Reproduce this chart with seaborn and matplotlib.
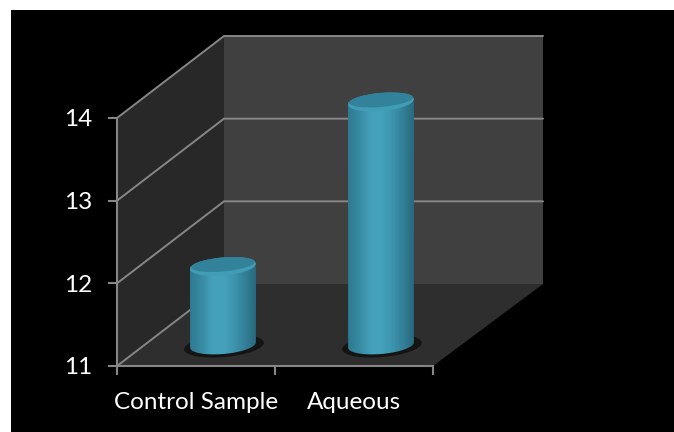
import numpy as np
import pandas as pd
import seaborn as sns
import matplotlib.pyplot as plt
from matplotlib.patches import Polygon, Ellipse, PathPatch, Rectangle
from matplotlib.path import Path
from matplotlib.colors import LinearSegmentedColormap
from matplotlib.transforms import IdentityTransform

categories = ["Control Sample", "Aqueous"]
values = [11.95, 13.94]
y_ticks = [11, 12, 13, 14]

W, H = 674, 432
DEPTH_L, DEPTH_R, DEPTH_Y = 107, 110, 82   # px, depth of the 3d box
BAR_DX, BAR_DY = 27, 21      # px, bars stand this far into the box
GREY = "#868686"

sns.set_theme(style="white")
plt.rcParams["font.family"] = ["Lato", "DejaVu Sans"]

fig = plt.figure(figsize=(W / 100, H / 100), dpi=100, facecolor="white")
fig.add_artist(Rectangle((11 / W, 0), 1 - 11 / W, 1 - 10 / H, transform=fig.transFigure,
                         facecolor="black", edgecolor="none", zorder=-5))
ax = fig.add_axes([117 / W, 1 - 366 / H, 316 / W, 248 / H])
ax.patch.set_alpha(0)

df = pd.DataFrame({"sample": categories, "value": values})
sns.barplot(data=df, x="sample", y="value", ax=ax, width=0.418, color="#3f9cb8", saturation=1)
ax.set_xlim(-0.5, 1.5)
ax.set_ylim(y_ticks[0], y_ticks[-1])
ax.set(xlabel="", ylabel="")

# axis lines and ticks
for s in ["top", "right"]:
    ax.spines[s].set_visible(False)
for s in ["left", "bottom"]:
    ax.spines[s].set_color(GREY)
    ax.spines[s].set_linewidth(1.5)
ax.set_yticks(y_ticks)
ax.set_xticks([0, 1], categories)
ax.set_xticks([-0.5, 0.5, 1.5], minor=True)
ax.tick_params(axis="y", colors="white", labelsize=17.5, length=6.5, width=1.5, color=GREY, pad=11, left=True)
ax.tick_params(axis="x", which="major", colors="white", labelsize=17.5, length=0, pad=18.5)
ax.tick_params(axis="x", which="minor", length=6.5, width=1.5, color=GREY, bottom=True)

# everything 3d is placed in pixels worked out from the axes scales
px = IdentityTransform()
to_px = ax.transData.transform
x0, y_lo = to_px((-0.5, y_ticks[0]))
x1, y_hi = to_px((1.5, y_ticks[-1]))


def wall(points, color, z):
    ax.add_patch(Polygon(points, closed=True, facecolor=color, edgecolor="none",
                         transform=px, clip_on=False, zorder=z))


wall([(x0, y_lo), (x0, y_hi), (x0 + DEPTH_L, y_hi + DEPTH_Y), (x0 + DEPTH_L, y_lo + DEPTH_Y)], "#282828", 0.1)
wall([(x0 + DEPTH_L, y_lo + DEPTH_Y), (x0 + DEPTH_L, y_hi + DEPTH_Y),
      (x1 + DEPTH_R, y_hi + DEPTH_Y), (x1 + DEPTH_R, y_lo + DEPTH_Y)], "#404040", 0.1)
wall([(x0, y_lo), (x0 + DEPTH_L, y_lo + DEPTH_Y), (x1 + DEPTH_R, y_lo + DEPTH_Y), (x1, y_lo)], "#2e2e2e", 0.2)

for t in y_ticks:
    y = to_px((0, t))[1]
    xs = [x0, x0 + DEPTH_L] if t == y_ticks[0] else [x0, x0 + DEPTH_L, x1 + DEPTH_R]
    ys = [y, y + DEPTH_Y] if t == y_ticks[0] else [y, y + DEPTH_Y, y + DEPTH_Y]
    ax.plot(xs, ys, color=GREY, lw=1.4, transform=px, clip_on=False, zorder=0.5)

# cylinders built on the bars seaborn drew
body_cmap = LinearSegmentedColormap.from_list(
    "body", ["#2e7a92", "#388aa3", "#44a0bb", "#45a2bc", "#3d93ad", "#327f97", "#28677a"])
gradient = np.linspace(0, 1, 128)[None, :]
TILT = 5
ELL_H = 18

for bar in list(ax.patches):
    if not isinstance(bar, Rectangle) or bar.get_width() > 1:
        continue
    left = to_px((bar.get_x(), 0))[0] + BAR_DX
    right = to_px((bar.get_x() + bar.get_width(), 0))[0] + BAR_DX
    top = to_px((0, bar.get_height()))[1] + BAR_DY
    base = y_lo + BAR_DY
    cx, w = (left + right) / 2, right - left
    bar.set_visible(False)

    ax.add_patch(Ellipse((cx + 1, base - 1), w + 14, 22, angle=TILT, facecolor="#141414",
                         edgecolor="none", transform=px, clip_on=False, zorder=1))

    # body outline: side walls with the tilted lower ellipse
    t = np.linspace(np.pi, 2 * np.pi, 40)
    a = np.radians(TILT)
    ex = w / 2 * np.cos(t)
    ey = ELL_H / 2 * np.sin(t)
    low = np.c_[cx + ex * np.cos(a) - ey * np.sin(a), base + ex * np.sin(a) + ey * np.cos(a)]
    verts = np.vstack([low, [right, top], [left, top], low[0]])
    clip = PathPatch(Path(verts), transform=px, facecolor="none", edgecolor="none")
    clip.set_clip_on(False)
    ax.add_patch(clip)
    im = ax.imshow(gradient, cmap=body_cmap, extent=(left, right, base - 20, top), aspect="auto",
                   transform=px, zorder=2)
    im.set_clip_box(fig.bbox)
    im.set_clip_path(clip)

    ax.add_patch(Ellipse((cx, top), w, ELL_H, angle=TILT, facecolor="#419cb6",
                         edgecolor="none", transform=px, clip_on=False, zorder=2.5))
    ax.add_patch(Ellipse((cx, top + 2), w - 2, ELL_H - 4, angle=TILT, facecolor="#33829b",
                         edgecolor="none", transform=px, clip_on=False, zorder=2.6))

ax.set_xlim(-0.5, 1.5)
ax.set_ylim(y_ticks[0], y_ticks[-1])

fig.savefig("out.png", dpi=100, facecolor=fig.get_facecolor())
